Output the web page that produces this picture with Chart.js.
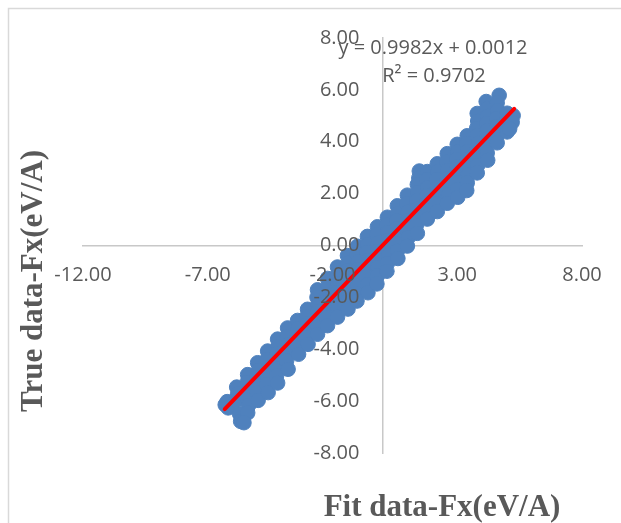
<!DOCTYPE html>
<html>
<head>
<meta charset="utf-8">
<script src="https://cdn.jsdelivr.net/npm/chart.js@4"></script>
<style>
  html, body { margin: 0; padding: 0; background: #fff; }
  #wrap { width: 621px; height: 523px; position: relative; }
</style>
</head>
<body>
<div id="wrap"><canvas id="fxChart"></canvas></div>
<script>
// Fx parity plot: fitted force vs. true force (eV/A)

const xTicks = [-12, -7, -2, 3, 8];
const yTicks = [-8, -6, -4, -2, 0, 2, 4, 6, 8];

// [fit Fx, true Fx]
const samples = [
  [-6.3, -6.14], [-6.22, -6.02], [-6.18, -6.26],
  [-5.84, -5.46], [-5.8, -5.72], [-5.86, -5.98], [-5.72, -6.5], [-5.68, -6.78],
  [-5.4, -4.98], [-5.42, -5.27], [-5.38, -5.57], [-5.44, -5.86], [-5.36, -6.16], [-5.4, -6.45], [-5.55, -6.83],
  [-5.0, -4.52], [-4.96, -4.81], [-5.04, -5.1], [-4.98, -5.39], [-5.02, -5.68], [-4.98, -5.97],
  [-4.6, -4.07], [-4.62, -4.39], [-4.56, -4.71], [-4.6, -5.03], [-4.64, -5.35], [-4.58, -5.67],
  [-4.2, -3.61], [-4.18, -3.89], [-4.22, -4.17], [-4.2, -4.45], [-4.16, -4.74], [-4.24, -5.02], [-4.2, -5.3],
  [-3.8, -3.18], [-3.82, -3.5], [-3.78, -3.82], [-3.8, -4.13], [-3.84, -4.45], [-3.78, -4.77],
  [-3.4, -2.89], [-3.38, -3.21], [-3.42, -3.54], [-3.4, -3.86], [-3.36, -4.19],
  [-3.0, -2.46], [-3.02, -2.73], [-2.98, -3.0], [-3.0, -3.27], [-3.04, -3.54], [-2.98, -3.81],
  [-2.6, -1.71], [-2.62, -2.0], [-2.58, -2.28], [-2.6, -2.56], [-2.64, -2.85], [-2.58, -3.13], [-2.6, -3.42],
  [-2.2, -1.27], [-2.18, -1.57], [-2.22, -1.88], [-2.2, -2.18], [-2.16, -2.48], [-2.24, -2.79], [-2.2, -3.09],
  [-1.8, -0.83], [-1.82, -1.15], [-1.78, -1.47], [-1.8, -1.8], [-1.84, -2.12], [-1.78, -2.44], [-1.8, -2.76],
  [-1.4, -0.39], [-1.38, -0.68], [-1.42, -0.98], [-1.4, -1.27], [-1.36, -1.57], [-1.44, -1.86], [-1.4, -2.16], [-1.38, -2.45],
  [-1.0, -0.03], [-1.02, -0.33], [-0.98, -0.63], [-1.0, -0.93], [-1.04, -1.24], [-0.98, -1.54], [-1.0, -1.84], [-1.02, -2.14],
  [-0.6, 0.35], [-0.58, 0.04], [-0.62, -0.27], [-0.6, -0.58], [-0.56, -0.89], [-0.64, -1.2], [-0.6, -1.51], [-0.58, -1.82],
  [-0.2, 0.72], [-0.22, 0.41], [-0.18, 0.09], [-0.2, -0.22], [-0.24, -0.54], [-0.18, -0.85], [-0.2, -1.17], [-0.22, -1.48],
  [0.2, 1.09], [0.18, 0.79], [0.22, 0.5], [0.2, 0.2], [0.16, -0.1], [0.24, -0.4], [0.2, -0.69], [0.18, -0.99],
  [0.6, 1.53], [0.62, 1.24], [0.58, 0.95], [0.6, 0.66], [0.64, 0.37], [0.56, 0.08], [0.6, -0.21], [0.62, -0.5],
  [1.0, 1.94], [0.98, 1.61], [1.02, 1.29], [1.0, 0.96], [0.96, 0.63], [1.04, 0.31], [1.0, -0.02],
  [1.48, 2.87], [1.46, 2.6], [1.4, 2.35], [1.42, 2.04], [1.38, 1.72], [1.4, 1.41], [1.44, 1.1], [1.36, 0.78], [1.4, 0.47],
  [1.8, 2.85], [1.78, 2.54], [1.82, 2.24], [1.8, 1.94], [1.76, 1.63], [1.84, 1.33], [1.8, 1.02],
  [2.2, 3.15], [2.22, 2.84], [2.18, 2.54], [2.2, 2.23], [2.24, 1.92], [2.16, 1.62], [2.2, 1.31],
  [2.6, 3.54], [2.58, 3.22], [2.62, 2.9], [2.6, 2.59], [2.56, 2.27], [2.64, 1.95], [2.6, 1.63],
  [3.0, 3.9], [3.02, 3.61], [2.98, 3.32], [3.0, 3.03], [3.04, 2.74], [2.96, 2.44], [3.0, 2.15], [3.02, 1.86],
  [3.4, 4.23], [3.38, 3.93], [3.42, 3.63], [3.4, 3.32], [3.36, 3.02], [3.44, 2.72], [3.4, 2.42], [3.38, 2.12],
  [3.8, 5.09], [3.82, 4.8], [3.78, 4.52], [3.8, 4.23], [3.84, 3.95], [3.76, 3.66], [3.8, 3.37], [3.82, 3.09], [3.8, 2.8],
  [4.16, 5.55], [4.2, 5.27], [4.22, 4.99], [4.18, 4.7], [4.2, 4.42], [4.24, 4.14], [4.16, 3.86], [4.2, 3.57], [4.22, 3.29],
  [4.68, 5.79], [4.6, 5.5], [4.62, 5.2], [4.58, 4.9], [4.6, 4.6], [4.64, 4.3], [4.6, 3.96],
  [5.0, 5.1], [4.98, 4.85], [5.02, 4.6], [5.0, 4.38],
  [5.24, 5.01], [5.2, 4.75], [5.1, 4.5]
];

// linear trendline
const trendSlope = 0.9982;
const trendIntercept = 0.0012;
const trendR2 = 0.9702;
const trendRange = [-6.32, 5.28];

const xTitle = 'Fit data-Fx(eV/A)';
const yTitle = 'True data-Fx(eV/A)';

const gray = '#595959';
const tickFont = { family: "'Open Sans', sans-serif", size: 20 };

const scatterPts = samples.map(p => ({ x: p[0], y: p[1] }));
const trendPts = trendRange.map(x => ({ x: x, y: trendSlope * x + trendIntercept }));

// axis boxes take no room, the axes cross inside the plot
const noHeight = s => { s.height = 0; };
const noWidth = s => { s.width = 0; };
const setX = s => { s.ticks = xTicks.map(v => ({ value: v })); };
const setY = s => { s.ticks = yTicks.map(v => ({ value: v })); };

const decor = {
  id: 'decor',
  beforeDraw(chart) {
    const ctx = chart.ctx;
    ctx.save();
    ctx.strokeStyle = '#d9d9d9';
    ctx.lineWidth = 1.5;
    ctx.strokeRect(8.5, 8.5, 700, 700);
    ctx.restore();
  },
  afterDraw(chart) {
    const ctx = chart.ctx;
    ctx.save();
    ctx.fillStyle = gray;
    // trendline equation
    ctx.font = "20px 'Open Sans', sans-serif";
    ctx.textAlign = 'center';
    ctx.textBaseline = 'middle';
    ctx.fillText('y = ' + trendSlope + 'x + ' + trendIntercept.toFixed(4), 433, 48);
    ctx.fillText('R² = ' + trendR2, 434, 76);
    // axis titles
    ctx.font = "bold 31px 'Liberation Serif', 'Times New Roman', serif";
    ctx.textBaseline = 'alphabetic';
    ctx.fillText(xTitle, 442, 516);
    ctx.translate(42, 281);
    ctx.rotate(-Math.PI / 2);
    ctx.fillText(yTitle, 0, 0);
    ctx.restore();
  }
};

const ctx = document.getElementById('fxChart');
const fxChart = new Chart(ctx, {
  type: 'scatter',
  data: {
    datasets: [{
      type: 'line',
      label: 'Linear fit',
      data: trendPts,
      borderColor: '#ff0000',
      borderWidth: 4,
      borderCapStyle: 'round',
      pointRadius: 0,
      fill: false
    }, {
      label: 'Fx',
      data: scatterPts,
      backgroundColor: '#4f81bd',
      borderColor: '#4f81bd',
      borderWidth: 1,
      pointRadius: 7.3
    }]
  },
  options: {
    responsive: true,
    maintainAspectRatio: false,
    devicePixelRatio: 1,
    animation: false,
    events: [],
    layout: { padding: { left: 83, right: 39, top: 38, bottom: 70 } },
    scales: {
      x: {
        type: 'linear', min: -12, max: 8,
        position: { y: 0 },
        afterBuildTicks: setX,
        afterFit: noHeight,
        grid: { display: false, drawTicks: false },
        border: { display: true, color: '#c8c8c8', width: 1.5 },
        ticks: { display: false }
      },
      y: {
        type: 'linear', min: -8, max: 8,
        position: { x: 0 },
        afterBuildTicks: setY,
        afterFit: noWidth,
        grid: { display: false, drawTicks: false },
        border: { display: true, color: '#c8c8c8', width: 1.5 },
        ticks: { display: false }
      },
      // tick text sits above the points
      xText: {
        axis: 'x', type: 'linear', min: -12, max: 8,
        position: { y: 0 },
        afterBuildTicks: setX,
        afterFit: noHeight,
        grid: { display: false, drawTicks: false },
        border: { display: false },
        ticks: { z: 1, autoSkip: false, maxRotation: 0, padding: 18, color: gray, font: tickFont,
          callback: v => v.toFixed(2) }
      },
      yText: {
        axis: 'y', type: 'linear', min: -8, max: 8,
        position: { x: -0.92 },
        afterBuildTicks: setY,
        afterFit: noWidth,
        grid: { display: false, drawTicks: false },
        border: { display: false },
        ticks: { z: 1, autoSkip: false, color: gray, font: tickFont,
          callback: v => v.toFixed(2) }
      }
    },
    plugins: {
      legend: { display: false },
      title: { display: false },
      tooltip: { enabled: false }
    }
  },
  plugins: [decor]
});
</script>
</body>
</html>
